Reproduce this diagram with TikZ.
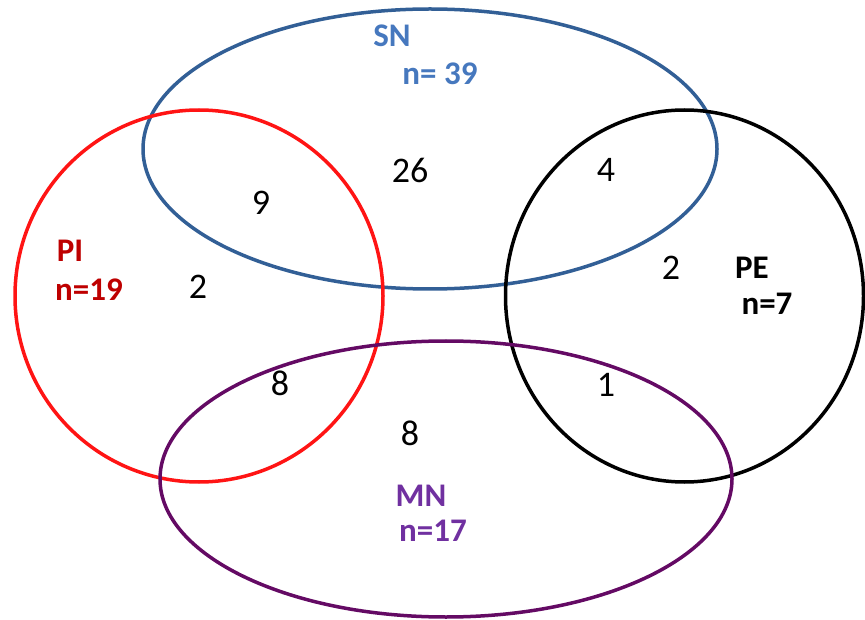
\documentclass[tikz,border=0pt]{standalone}
\usepackage{fontspec}
\setmainfont{Carlito}
\definecolor{snblue}{RGB}{50,95,150}
\definecolor{sntext}{RGB}{70,120,190}
\definecolor{pired}{RGB}{255,20,20}
\definecolor{pitext}{RGB}{190,0,0}
\definecolor{mnpurple}{RGB}{100,10,100}
\definecolor{mntext}{RGB}{112,48,160}
\begin{document}
\begin{tikzpicture}[x=1pt,y=-1pt,
  ring/.style={line width=3.5pt},
  num/.style={font=\fontsize{36}{38}\selectfont, text=black, inner sep=0pt},
  lab/.style={font=\fontsize{33}{35}\selectfont\bfseries, inner sep=0pt}]
\useasboundingbox (0,0) rectangle (865,620);
\draw[ring, snblue] (430,149) ellipse [x radius=287, y radius=140];
\draw[ring, pired] (199,296) ellipse [x radius=184, y radius=186];
\draw[ring, black] (684.5,296) ellipse [x radius=179, y radius=186];
\draw[ring, mnpurple] (446,479) ellipse [x radius=286, y radius=138];
\node[lab, text=sntext] (snl) at (392,36) {SN};
\node[lab, text=sntext] (snn) at (440,74) {n= 39};
\node[lab, text=pitext] (pil) at (70,251) {PI};
\node[lab, text=pitext] (pin) at (89,290) {n=19};
\node[lab, text=black] (pel) at (752,268) {PE};
\node[lab, text=black] (pen) at (767,304) {n=7};
\node[lab, text=mntext] (mnl) at (421,496) {MN};
\node[lab, text=mntext] (mnn) at (433,531) {n=17};
\node[num] (a) at (410,170) {26};
\node[num] (b) at (606,170) {4};
\node[num] (c) at (261,203) {9};
\node[num] (d) at (198,287) {2};
\node[num] (e) at (671,268) {2};
\node[num] (f) at (280,383) {8};
\node[num] (g) at (606,385) {1};
\node[num] (h) at (410,433) {8};
\end{tikzpicture}
\end{document}
